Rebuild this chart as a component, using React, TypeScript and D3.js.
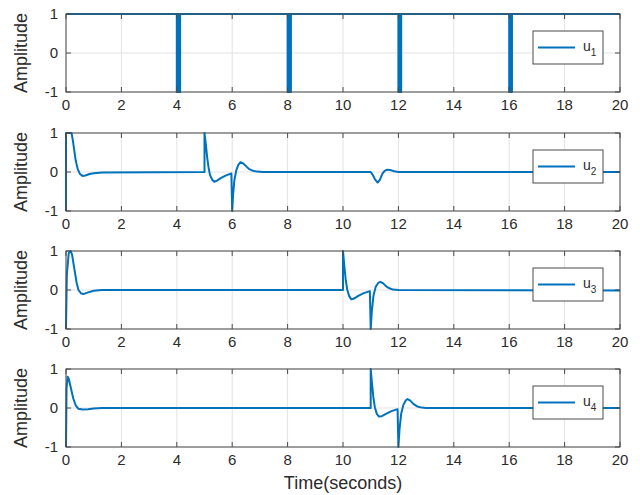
import { scaleLinear, line } from "d3";

const xTicks = [0, 2, 4, 6, 8, 10, 12, 14, 16, 18, 20];
const yTicks = [-1, 0, 1];
const names = ["1", "2", "3", "4"];

// u1: square pulses around 4, 8, 12, 16 s
const u1T = [0, 4, 4, 4.04, 4.04, 4.08, 4.08, 4.12, 4.12, 4.16, 4.16,
  8, 8, 8.04, 8.04, 8.08, 8.08, 8.12, 8.12, 8.16, 8.16,
  12, 12, 12.04, 12.04, 12.08, 12.08, 12.1, 12.1,
  16, 16, 16.04, 16.04, 16.08, 16.08, 16.1, 16.1, 20];
const u1V = [1, 1, -1, -1, 1, 1, -1, -1, 1, 1, 1,
  1, -1, -1, 1, 1, -1, -1, 1, 1, 1,
  1, -1, -1, 1, 1, -1, -1, 1,
  1, -1, -1, 1, 1, -1, -1, 1, 1];

const u2T = [0, 0, 0.03, 0.2, 0.25, 0.3, 0.35, 0.42, 0.5, 0.6, 0.7, 0.85, 1.0, 1.3, 5.0,
  5.0, 5.05, 5.1, 5.15, 5.2, 5.28, 5.35, 5.45, 5.6, 5.8, 5.97, 6.0, 6.03, 6.08, 6.15, 6.22,
  6.3, 6.4, 6.5, 6.6, 6.75, 6.9, 7.1, 11.0, 11.08, 11.15, 11.25, 11.33, 11.42, 11.5,
  11.6, 11.7, 11.85, 12.0, 20];
const u2V = [-1, 1, 1, 1, 0.8, 0.55, 0.3, 0.08, -0.05, -0.1, -0.09, -0.05, -0.03, -0.01, 0,
  1, 0.7, 0.35, 0.1, -0.08, -0.2, -0.25, -0.22, -0.15, -0.08, -0.04, -1, -0.6, -0.2, 0.05, 0.18,
  0.25, 0.22, 0.15, 0.08, 0.03, 0.01, 0, 0, -0.08, -0.18, -0.27, -0.2, -0.05, 0.03,
  0.06, 0.05, 0.02, 0, 0];

const u3T = [0, 0.03, 0.1, 0.17, 0.22, 0.3, 0.38, 0.45, 0.55, 0.65, 0.8, 1.0, 1.3, 10,
  10, 10.05, 10.1, 10.15, 10.22, 10.3, 10.4, 10.55, 10.75, 10.97, 11, 11.04, 11.1, 11.18,
  11.27, 11.35, 11.45, 11.55, 11.65, 11.8, 12, 20];
const u3V = [-1, 0.4, 0.95, 1, 0.9, 0.55, 0.2, 0, -0.09, -0.1, -0.06, -0.02, 0, 0,
  1, 0.6, 0.25, 0.02, -0.15, -0.24, -0.22, -0.15, -0.08, -0.03, -1, -0.55, -0.15, 0.08,
  0.18, 0.21, 0.17, 0.1, 0.05, 0.01, 0, -0.01];

const u4T = [0, 0.02, 0.06, 0.1, 0.18, 0.26, 0.35, 0.45, 0.6, 0.8, 1.0, 1.3, 11,
  11, 11.05, 11.1, 11.15, 11.22, 11.3, 11.4, 11.55, 11.75, 11.97, 12, 12.04, 12.1, 12.18,
  12.27, 12.33, 12.43, 12.55, 12.68, 12.85, 13, 20];
const u4V = [-1, 0.5, 0.8, 0.75, 0.5, 0.25, 0.07, -0.02, -0.04, -0.03, -0.01, 0, 0,
  1, 0.6, 0.25, 0.02, -0.15, -0.22, -0.21, -0.15, -0.08, -0.03, -1, -0.55, -0.15, 0.08,
  0.2, 0.23, 0.19, 0.1, 0.04, 0.01, 0, 0];

const series = [
  [u1T, u1V],
  [u2T, u2V],
  [u3T, u3V],
  [u4T, u4V],
];

const tops = [14, 133, 251, 369];
const left = 66;
const right = 620;
const h = 78;
const blue = "#0072BD";
const axisCol = "#4a4a4a";
const textCol = "#2b2b2b";
const font = "'Liberation Sans', Arial, sans-serif";

function Panel({ idx, top }: { idx: number; top: number }) {
  const x = scaleLinear().domain([0, 20]).range([left, right]);
  const y = scaleLinear().domain([-1, 1]).range([top + h, top]);
  const [ts, vs] = series[idx];
  const pts = ts.map((t, i) => [t, vs[i]] as [number, number]);
  const path = line<[number, number]>()
    .x((d) => x(d[0]))
    .y((d) => y(d[1]))(pts) || "";
  const clipId = `clip${idx}`;
  const lx = 533;
  const ly = top + 17;
  const lw = 70;
  const lh = 33;
  return (
    <g>
      <defs>
        <clipPath id={clipId}>
          <rect x={left - 1} y={top - 1} width={right - left + 2} height={h + 2} />
        </clipPath>
      </defs>
      <rect x={left} y={top} width={right - left} height={h} fill="#fff" />
      {xTicks.map((t) => (
        <line key={`gx${t}`} x1={x(t)} x2={x(t)} y1={top} y2={top + h} stroke="#e3e3e3" />
      ))}
      {yTicks.map((t) => (
        <line key={`gy${t}`} x1={left} x2={right} y1={y(t)} y2={y(t)} stroke="#e3e3e3" />
      ))}
      <path d={path} fill="none" stroke={blue} strokeWidth={2} clipPath={`url(#${clipId})`} strokeLinejoin="round" />
      <rect x={left} y={top} width={right - left} height={h} fill="none" stroke={axisCol} strokeWidth={1} />
      {xTicks.map((t) => (
        <g key={`tx${t}`}>
          <line x1={x(t)} x2={x(t)} y1={top + h} y2={top + h - 5} stroke={axisCol} />
          <line x1={x(t)} x2={x(t)} y1={top} y2={top + 5} stroke={axisCol} />
          <text x={x(t)} y={top + h + 18} textAnchor="middle" fontSize={15} fill={textCol} fontFamily={font}>
            {t}
          </text>
        </g>
      ))}
      {yTicks.map((t) => (
        <g key={`ty${t}`}>
          <line x1={left} x2={left + 5} y1={y(t)} y2={y(t)} stroke={axisCol} />
          <line x1={right} x2={right - 5} y1={y(t)} y2={y(t)} stroke={axisCol} />
          <text x={left - 8} y={y(t) + 5} textAnchor="end" fontSize={15} fill={textCol} fontFamily={font}>
            {t}
          </text>
        </g>
      ))}
      <text
        transform={`translate(27, ${top + h / 2}) rotate(-90)`}
        textAnchor="middle"
        fontSize={18}
        fill={textCol}
        fontFamily={font}
      >
        Amplitude
      </text>
      <rect x={lx} y={ly} width={lw} height={lh} fill="#fff" stroke={axisCol} strokeWidth={1} />
      <line x1={lx + 5} x2={lx + 42} y1={ly + lh / 2} y2={ly + lh / 2} stroke={blue} strokeWidth={2} />
      <text x={lx + 50} y={ly + lh / 2 + 3} fontSize={14} fill={textCol} fontFamily={font}>
        u
        <tspan fontSize={10} dy={5}>{names[idx]}</tspan>
      </text>
    </g>
  );
}

export default function App() {
  return (
    <svg width={640} height={495} style={{ position: "absolute", left: 0, top: 0, background: "#fff" }}>
      <rect width={640} height={495} fill="#fff" />
      {tops.map((t, i) => (
        <Panel key={i} idx={i} top={t} />
      ))}
      <text x={343} y={489} textAnchor="middle" fontSize={18} fill={textCol} fontFamily={font}>
        Time(seconds)
      </text>
    </svg>
  );
}
